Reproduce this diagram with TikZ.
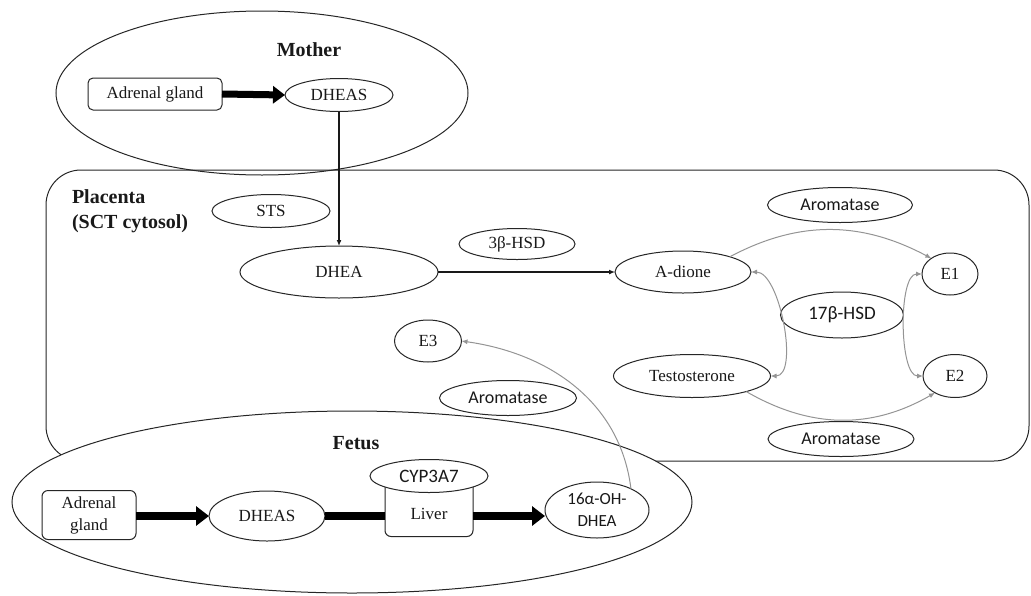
\documentclass[tikz,border=0pt]{standalone}
\usepackage{fontspec}
\setmainfont{Liberation Serif}
\newfontfamily\calib{Carlito}
\usetikzlibrary{shapes.geometric,arrows.meta}
\begin{document}
\begin{tikzpicture}[x=1pt,y=-1pt,
  every node/.style={inner sep=0pt, outer sep=0pt, text=black!90},
  ell/.style={draw=black!85, line width=1pt, ellipse, fill=white, font=\fontsize{17}{20}\selectfont},
  cell/.style={draw=black!85, line width=1pt, ellipse, fill=white, font=\calib\fontsize{18}{20}\selectfont},
  rbox/.style={draw=black!85, line width=1pt, rectangle, rounded corners=6pt, fill=white, font=\fontsize{17}{22}\selectfont, align=center},
  region/.style={draw=black!85, line width=1pt},
  heading/.style={font=\bfseries\fontsize{20}{25}\selectfont, align=left},
  bigarrow/.style={line width=7pt, -{Triangle[length=12pt,width=17pt]}},
  bigarrowf/.style={line width=8pt, -{Triangle[length=13pt,width=19pt]}},
  bigline/.style={line width=8pt},
  blackarrow/.style={line width=1.5pt, black!90, -{Latex[length=6pt,width=5pt]}},
  greyarrow/.style={line width=1pt, black!42, -{Latex[length=6pt,width=5pt]}},
  greyboth/.style={line width=1pt, black!42, {Latex[length=6pt,width=5pt]}-{Latex[length=6pt,width=5pt]}}
]
\useasboundingbox (0,0) rectangle (1031,595);

% Mother region
\draw[region] (262,93) ellipse [x radius=206pt, y radius=82pt];
\node[heading] (mother) at (309,50) {Mother};
\node[rbox, minimum width=134pt, minimum height=32pt, rounded corners=5pt] (madr) at (155,94) {Adrenal gland};
\node[ell, minimum width=108pt, minimum height=33pt] (mdheas) at (339,95) {DHEAS};
\draw[bigarrow] (madr.east) -- (mdheas.west);

% Placenta region
\draw[region, rounded corners=35pt] (46,170) rectangle (1029,461);
\node[heading, anchor=west] (plac) at (72,211) {Placenta\\(SCT cytosol)};
\node[ell, minimum width=118pt, minimum height=33pt] (sts) at (271,211) {STS};
\node[ell, minimum width=198pt, minimum height=52pt] (dhea) at (339,272) {DHEA};
\node[ell, minimum width=116pt, minimum height=31pt] (hsd3) at (517,244) {3β-HSD};
\node[ell, minimum width=136pt, minimum height=42pt] (adione) at (683,272) {A-dione};
\node[cell, minimum width=145pt, minimum height=35pt] (aro1) at (840,205) {Aromatase};
\node[ell, minimum width=56pt, minimum height=42pt] (e1) at (950,274) {E1};
\node[cell, minimum width=123pt, minimum height=46pt, font=\calib\fontsize{19}{20}\selectfont] (hsd17) at (842,315) {17β-HSD};
\node[ell, minimum width=157pt, minimum height=43pt] (testo) at (692,376) {Testosterone};
\node[ell, minimum width=64pt, minimum height=43pt] (e2) at (955,376) {E2};
\node[cell, minimum width=146pt, minimum height=35pt] (aro2) at (841,439) {Aromatase};
\node[ell, minimum width=67pt, minimum height=42pt] (e3) at (428,341) {E3};
\node[cell, minimum width=137pt, minimum height=35pt] (aro3) at (508,398) {Aromatase};

\draw[blackarrow] (mdheas) -- (dhea);
\draw[blackarrow] (dhea.east) -- (adione.west);
\draw[greyarrow] (adione.18) to[out=28,in=152] (e1.140);
\draw[greyarrow] (testo.-16) to[out=-30,in=-150] (e2.-140);
\draw[greyboth] (adione.east) to[out=0,in=0,looseness=0.7] (testo.east);
\draw[greyboth] (e1.west) to[out=180,in=180,looseness=0.6] (e2.west);

% Fetus region
\draw[region, fill=white] (352,502) ellipse [x radius=340pt, y radius=91pt];
\node[heading] (fetus) at (356,443) {Fetus};
\node[rbox, minimum width=94pt, minimum height=49pt] (fadr) at (89,515) {Adrenal\\gland};
\node[ell, minimum width=116pt, minimum height=50pt] (fdheas) at (267,516) {DHEAS};
\node[rbox, minimum width=88pt, minimum height=59pt] (liver) at (429,507) {};
\node[font=\fontsize{17}{20}\selectfont] (liverlabel) at (429,514) {Liver};
\node[cell, minimum width=118pt, minimum height=33pt, font=\calib\fontsize{19}{20}\selectfont] (cyp) at (429,476) {CYP3A7};
\node[cell, minimum width=104pt, minimum height=56pt, align=center, font=\calib\fontsize{17}{22}\selectfont] (f16) at (597,510) {16α-OH-\\DHEA};

\draw[bigarrowf] (fadr.east |- fdheas) -- (fdheas.west);
\draw[bigline] (fdheas.east) -- (fdheas.east -| liver.west);
\draw[bigarrowf] (fdheas -| liver.east) -- (fdheas -| f16.west);

\draw[greyarrow] (f16.32) to[out=97,in=-8] (e3.east);
\end{tikzpicture}
\end{document}
